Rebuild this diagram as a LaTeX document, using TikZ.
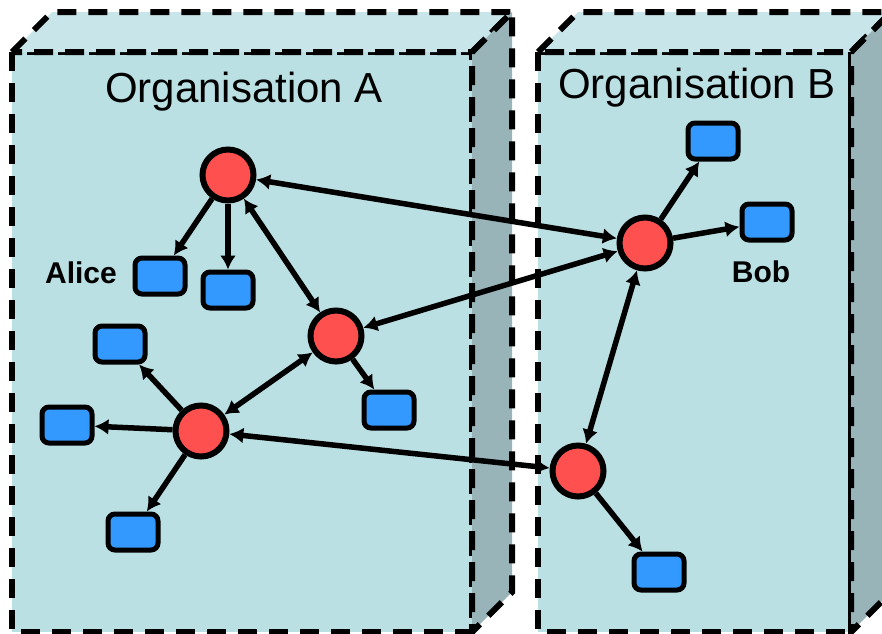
\documentclass[tikz,border=0pt]{standalone}
\usepackage{fontspec}
\setmainfont{Liberation Sans}
\usetikzlibrary{arrows.meta}

\definecolor{frontcol}{HTML}{BAE0E3}
\definecolor{topcol}{HTML}{C8E6E9}
\definecolor{sidecol}{HTML}{98B4B8}
\definecolor{peercol}{HTML}{FF5050}
\definecolor{devcol}{HTML}{3399FF}

\begin{document}
\begin{tikzpicture}[x=1pt,y=-1pt,
    face/.style={line width=6pt,dash pattern=on 19pt off 12pt},
    peer/.style={circle,draw,line width=6pt,fill=peercol,minimum size=51pt,inner sep=0pt},
    device/.style={rectangle,rounded corners=7pt,draw,line width=5pt,fill=devcol,
      minimum width=50pt,minimum height=36pt,inner sep=0pt},
    link/.style={line width=5.5pt,-{Latex[length=14pt,width=16pt]}},
    both/.style={line width=5.5pt,{Latex[length=14pt,width=16pt]}-{Latex[length=14pt,width=16pt]}}]
  \useasboundingbox (0,0) rectangle (882,633);

  % organisation A
  \draw[face,fill=frontcol] (12,52) rectangle (472,632);
  \draw[face,fill=topcol] (12,52) -- (52,12) -- (512,12) -- (472,52) -- cycle;
  \draw[face,fill=sidecol] (472,52) -- (512,12) -- (512,592) -- (472,632) -- cycle;
  % organisation B
  \draw[face,fill=frontcol] (538,52) rectangle (851,632);
  \draw[face,fill=topcol] (538,52) -- (578,12) -- (891,12) -- (851,52) -- cycle;
  \draw[face,fill=sidecol] (851,52) -- (891,12) -- (891,592) -- (851,632) -- cycle;

  \node[anchor=base] (OrgA) at (244,102) {\fontsize{42}{50}\selectfont Organisation A};
  \node[anchor=base] (OrgB) at (697,98) {\fontsize{42}{50}\selectfont Organisation B};
  \node[anchor=base] (Alice) at (81,283) {\fontsize{30}{36}\selectfont\bfseries Alice};
  \node[anchor=base] (Bob) at (761,282) {\fontsize{30}{36}\selectfont\bfseries Bob};

  % peers
  \node[peer] (A1) at (228,175) {};
  \node[peer] (A2) at (336,336) {};
  \node[peer] (A3) at (201,431) {};
  \node[peer] (B1) at (645,243) {};
  \node[peer] (B2) at (578,471) {};

  % devices
  \node[device] (D1) at (160,276) {};
  \node[device] (D2) at (228,290) {};
  \node[device] (D3) at (120,344) {};
  \node[device] (D4) at (67,425) {};
  \node[device] (D5) at (133,532) {};
  \node[device] (D6) at (389,410) {};
  \node[device] (D7) at (713,141) {};
  \node[device] (D8) at (767,222) {};
  \node[device] (D9) at (659,572) {};

  % links between peers
  \draw[both] (A1) -- (B1);
  \draw[both] (A1) -- (A2);
  \draw[both] (B1) -- (A2);
  \draw[both] (A2) -- (A3);
  \draw[both] (A3) -- (B2);
  \draw[both] (B1) -- (B2);

  % peers to devices
  \draw[link] (A1) -- (D1);
  \draw[link] (A1) -- (D2);
  \draw[link] (A2) -- (D6);
  \draw[link] (A3) -- (D3);
  \draw[link] (A3) -- (D4);
  \draw[link] (A3) -- (D5);
  \draw[link] (B1) -- (D7);
  \draw[link] (B1) -- (D8);
  \draw[link] (B2) -- (D9);
\end{tikzpicture}
\end{document}
